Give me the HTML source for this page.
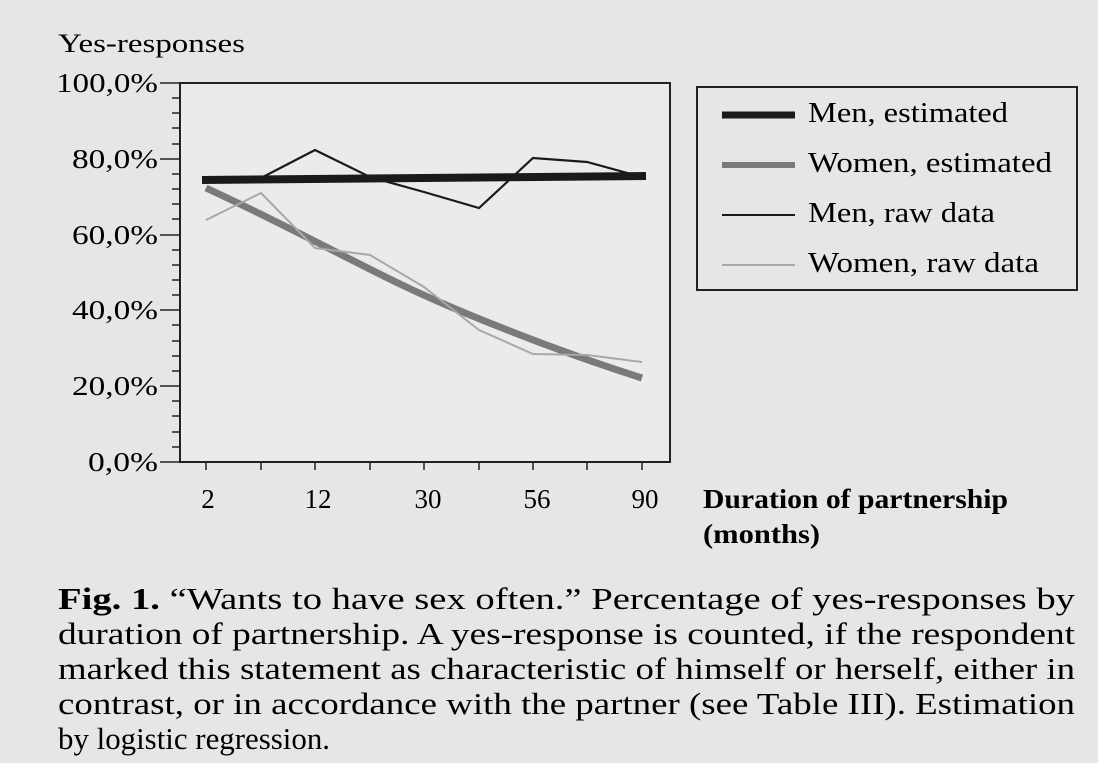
<!DOCTYPE html>
<html><head><style>
body{margin:0;background:#e6e6e4;}
svg{display:block}
text{font-family:"Liberation Serif",serif;fill:#000}
</style></head><body>
<svg width="1098" height="763" viewBox="0 0 1098 763" xmlns="http://www.w3.org/2000/svg">
<rect width="1098" height="763" fill="#e6e6e4"/>
<rect x="180" y="83" width="490" height="379" fill="#ebebe9" stroke="#222" stroke-width="2"/>
<text x="58" y="52" font-size="26" textLength="187" lengthAdjust="spacingAndGlyphs">Yes-responses</text>
<g font-size="27" text-anchor="end">
<text x="158" y="92" textLength="102" lengthAdjust="spacingAndGlyphs">100,0%</text>
<text x="158" y="168" textLength="86" lengthAdjust="spacingAndGlyphs">80,0%</text>
<text x="158" y="244" textLength="86" lengthAdjust="spacingAndGlyphs">60,0%</text>
<text x="158" y="319" textLength="86" lengthAdjust="spacingAndGlyphs">40,0%</text>
<text x="158" y="395" textLength="86" lengthAdjust="spacingAndGlyphs">20,0%</text>
<text x="158" y="471" textLength="70" lengthAdjust="spacingAndGlyphs">0,0%</text>
</g>
<g stroke="#222" stroke-width="1.5">
<line x1="160" y1="83" x2="180" y2="83"/><line x1="160" y1="159" x2="180" y2="159"/>
<line x1="160" y1="235" x2="180" y2="235"/><line x1="160" y1="310" x2="180" y2="310"/>
<line x1="160" y1="386" x2="180" y2="386"/><line x1="160" y1="462" x2="180" y2="462"/>
<line x1="172" y1="98" x2="180" y2="98"/><line x1="172" y1="113" x2="180" y2="113"/><line x1="172" y1="128" x2="180" y2="128"/><line x1="172" y1="144" x2="180" y2="144"/>
<line x1="172" y1="174" x2="180" y2="174"/><line x1="172" y1="189" x2="180" y2="189"/><line x1="172" y1="204" x2="180" y2="204"/><line x1="172" y1="219" x2="180" y2="219"/>
<line x1="172" y1="250" x2="180" y2="250"/><line x1="172" y1="265" x2="180" y2="265"/><line x1="172" y1="280" x2="180" y2="280"/><line x1="172" y1="295" x2="180" y2="295"/>
<line x1="172" y1="325" x2="180" y2="325"/><line x1="172" y1="341" x2="180" y2="341"/><line x1="172" y1="356" x2="180" y2="356"/><line x1="172" y1="371" x2="180" y2="371"/>
<line x1="172" y1="401" x2="180" y2="401"/><line x1="172" y1="416" x2="180" y2="416"/><line x1="172" y1="432" x2="180" y2="432"/><line x1="172" y1="447" x2="180" y2="447"/>
<line x1="206" y1="462" x2="206" y2="470"/><line x1="261" y1="462" x2="261" y2="470"/><line x1="315" y1="462" x2="315" y2="470"/><line x1="370" y1="462" x2="370" y2="470"/><line x1="424" y1="462" x2="424" y2="470"/><line x1="479" y1="462" x2="479" y2="470"/><line x1="533" y1="462" x2="533" y2="470"/><line x1="587" y1="462" x2="587" y2="470"/><line x1="642" y1="462" x2="642" y2="470"/>
</g>
<g font-size="27" text-anchor="middle">
<text x="208" y="508">2</text><text x="318" y="508">12</text><text x="428" y="508">30</text><text x="537" y="508">56</text><text x="645" y="508">90</text>
</g>
<text x="703" y="508" font-size="27" font-weight="bold" textLength="305" lengthAdjust="spacingAndGlyphs">Duration of partnership</text>
<text x="703" y="543" font-size="27" font-weight="bold" textLength="117" lengthAdjust="spacingAndGlyphs">(months)</text>
<path d="M206,188 C280,222 340,255 400,284 S560,352 642,378" fill="none" stroke="#7a7a7a" stroke-width="7"/>
<polyline points="206,220 261,193 315,248 370,255 424,287 479,330 533,354 587,355 642,362" fill="none" stroke="#a8a8a8" stroke-width="2"/>
<line x1="202" y1="180" x2="646" y2="176" stroke="#1a1a1a" stroke-width="8"/>
<polyline points="206,180 261,178 315,150 370,177 424,192 479,208 533,158 587,162 642,177" fill="none" stroke="#1a1a1a" stroke-width="2.2"/>
<rect x="697" y="87" width="380" height="203" fill="none" stroke="#222" stroke-width="2"/>
<line x1="722" y1="115" x2="795" y2="115" stroke="#1a1a1a" stroke-width="7"/>
<line x1="722" y1="165" x2="795" y2="165" stroke="#7a7a7a" stroke-width="6"/>
<line x1="722" y1="215" x2="795" y2="215" stroke="#1a1a1a" stroke-width="2"/>
<line x1="722" y1="265" x2="795" y2="265" stroke="#a8a8a8" stroke-width="2"/>
<g font-size="28">
<text x="808" y="122" textLength="200" lengthAdjust="spacingAndGlyphs">Men, estimated</text>
<text x="808" y="172" textLength="244" lengthAdjust="spacingAndGlyphs">Women, estimated</text>
<text x="808" y="222" textLength="187" lengthAdjust="spacingAndGlyphs">Men, raw data</text>
<text x="808" y="272" textLength="231" lengthAdjust="spacingAndGlyphs">Women, raw data</text>
</g>
<g font-size="31">
<text x="58" y="609" textLength="1017" lengthAdjust="spacingAndGlyphs"><tspan font-weight="bold">Fig. 1.</tspan>   “Wants to have sex often.” Percentage of yes-responses by</text>
<text x="58" y="644" textLength="1017" lengthAdjust="spacingAndGlyphs">duration of partnership. A yes-response is counted, if the respondent</text>
<text x="58" y="679" textLength="1017" lengthAdjust="spacingAndGlyphs">marked this statement as characteristic of himself or herself, either in</text>
<text x="58" y="714" textLength="1017" lengthAdjust="spacingAndGlyphs">contrast, or in accordance with the partner (see Table III). Estimation</text>
<text x="58" y="749" textLength="272" lengthAdjust="spacingAndGlyphs">by logistic regression.</text>
</g>
</svg>
</body></html>
